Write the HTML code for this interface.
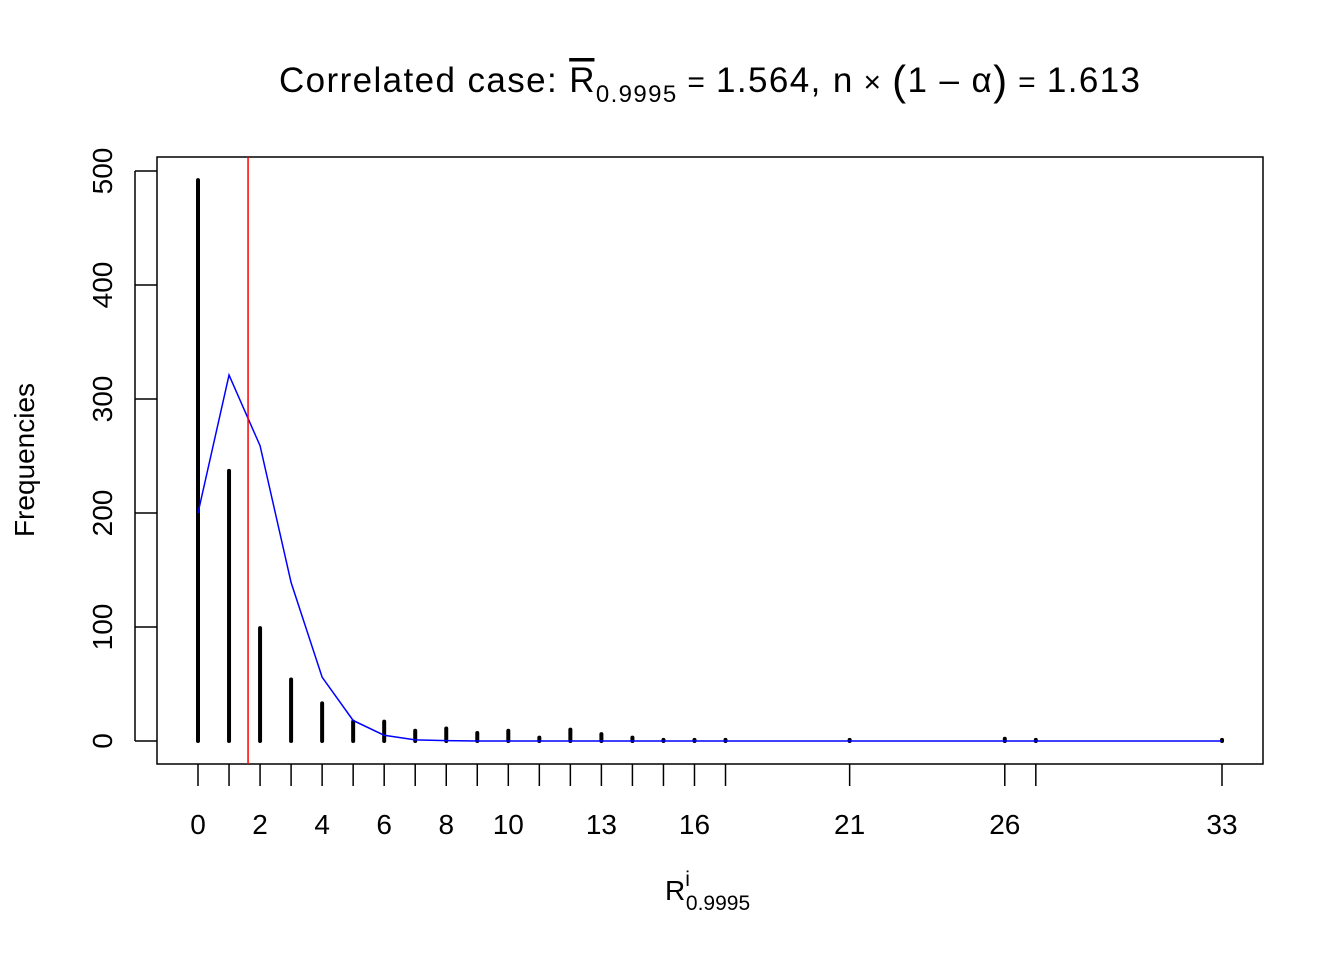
<!DOCTYPE html>
<html><head><meta charset="utf-8"><style>
body{margin:0;background:#fff;}
svg text{font-family:"Liberation Sans",Arial,sans-serif;}
</style></head><body>
<svg id="chart" width="1344" height="960" xmlns="http://www.w3.org/2000/svg">
<text x="279" y="92" font-size="35" textLength="861" lengthAdjust="spacing">Correlated case: <tspan text-decoration="overline">R</tspan><tspan font-size="24" dy="10">0.9995</tspan><tspan dy="-10" font-size="30"> = </tspan><tspan>1.564, n</tspan><tspan font-size="30"> × </tspan><tspan font-size="42" dy="3">(</tspan><tspan dy="-3">1 – α</tspan><tspan font-size="42" dy="3">)</tspan><tspan font-size="30" dy="-3"> = </tspan><tspan>1.613</tspan></text>
<rect x="157" y="157" width="1106" height="607" fill="none" stroke="#000" stroke-width="1.5"/>
<g id="bars"></g><g id="axes"></g>
<text x="34" y="460" font-size="28" text-anchor="middle" transform="rotate(-90 34 460)">Frequencies</text>
<text x="665" y="900" font-size="28">R<tspan font-size="21" dy="-14">i</tspan><tspan font-size="21" dx="-4" dy="24">0.9995</tspan></text>
</svg>
<script>
const cats=[0,1,2,3,4,5,6,7,8,9,10,11,12,13,14,15,16,17,21,26,27,33];
const freq=[492,237,99,54,33,17,17,9,11,7,9,3,10,6,3,1,1,1,1,2,1,1];
const expected=[200,321,259,139,56,18,5,1,0.3,0,0,0,0,0,0,0,0,0,0,0,0,0];
const xLabels=[0,2,4,6,8,10,13,16,21,26,33];
const yTicks=[0,100,200,300,400,500];
const threshold=1.613;
const NS="http://www.w3.org/2000/svg";
const X=v=>198+(v)*(1222-198)/33;
const Y=v=>741-v*(741-171)/500;
const bars=document.getElementById('bars'),axes=document.getElementById('axes');
function mk(tag,attrs,parent){const e=document.createElementNS(NS,tag);for(const k in attrs)e.setAttribute(k,attrs[k]);parent.appendChild(e);return e;}
cats.forEach((c,i)=>{
 const l=mk('line',{x1:X(c),x2:X(c),y1:Y(0),y2:Y(freq[i]),stroke:'#000','stroke-width':4,'stroke-linecap':'round'},bars);
 
 
});
const pl=mk('polyline',{points:cats.map((c,i)=>X(c)+','+Y(expected[i])).join(' '),fill:'none',stroke:'#0000ff','stroke-width':1.5},bars);


const rl=mk('line',{x1:X(threshold),x2:X(threshold),y1:157,y2:764,stroke:'#ff0000','stroke-width':1.5},bars);


cats.forEach(c=>{
 const t=mk('line',{x1:X(c),x2:X(c),y1:764,y2:786,stroke:'#000','stroke-width':1.5},axes);
 
 
});
xLabels.forEach(v=>{
 const t=mk('text',{x:X(v),y:834,'font-size':28,'text-anchor':'middle'},axes);t.textContent=v;
 
 
});
mk('line',{x1:135,x2:135,y1:Y(0),y2:Y(500),stroke:'#000','stroke-width':1.5},axes);
yTicks.forEach(v=>{
 const t=mk('line',{x1:135,x2:157,y1:Y(v),y2:Y(v),stroke:'#000','stroke-width':1.5},axes);
 
 
 const l=mk('text',{x:112,y:Y(v),'font-size':28,'text-anchor':'middle',transform:`rotate(-90 112 ${Y(v)})`},axes);l.textContent=v;
 
 
});
</script>
</body></html>
